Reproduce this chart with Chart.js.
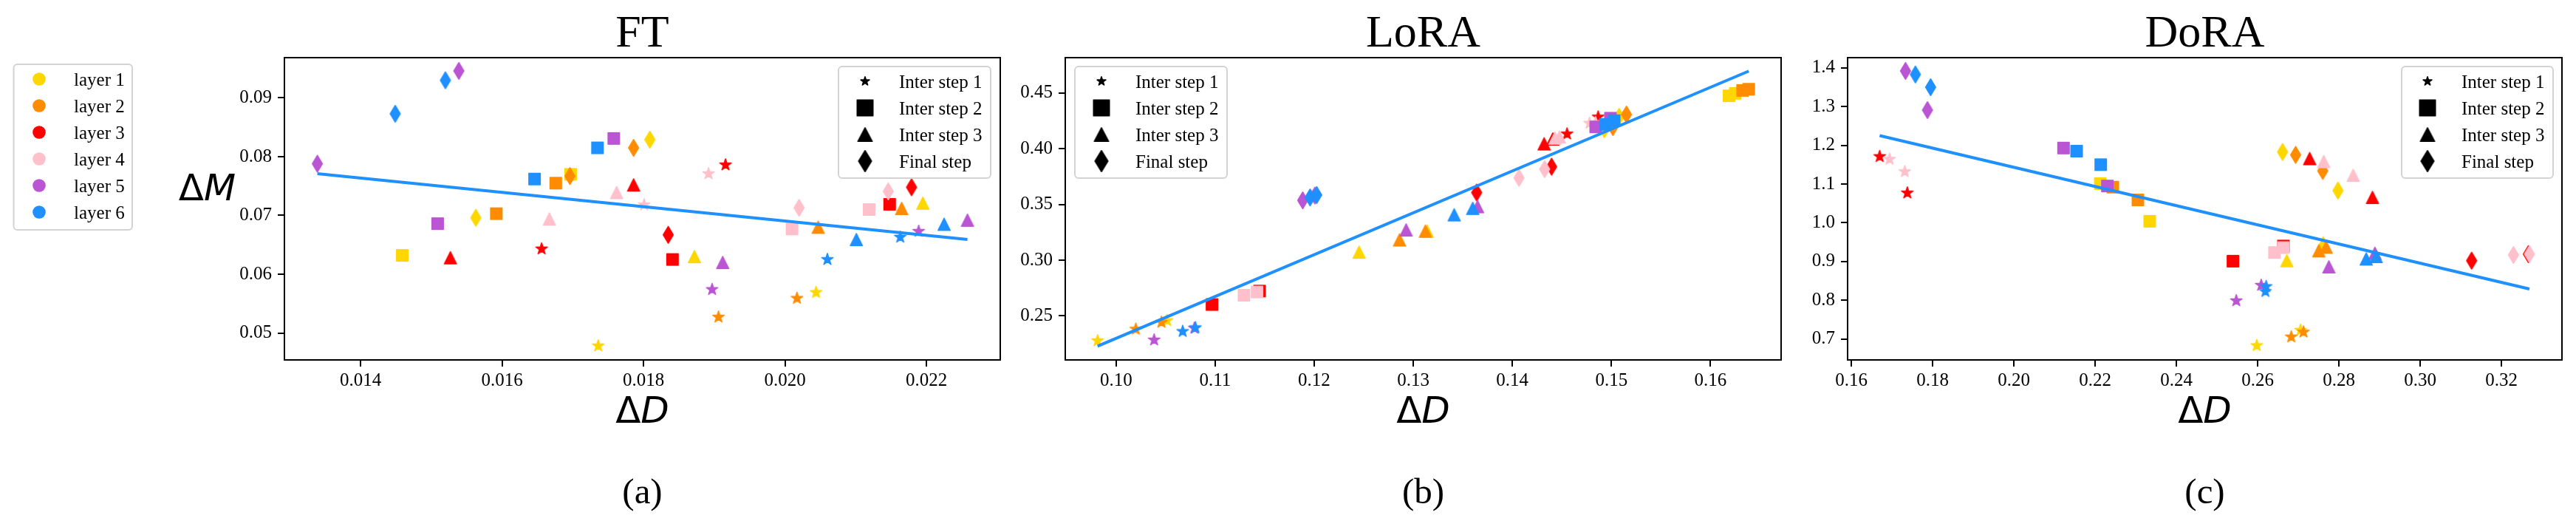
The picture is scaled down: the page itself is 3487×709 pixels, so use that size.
<!DOCTYPE html>
<html>
<head>
<meta charset="utf-8">
<script src="https://cdn.jsdelivr.net/npm/chart.js@4.4.1/dist/chart.umd.min.js"></script>
<style>
    body { margin: 0; background: #fff; width: 3487px; height: 709px; overflow: hidden; position: relative; }
    canvas { position: absolute; top: 0; }
</style>
</head>
<body>
<canvas id="ft" width="1380" height="709" style="left:0px"></canvas>
<canvas id="lora" width="1060" height="709" style="left:1380px"></canvas>
<canvas id="dora" width="1047" height="709" style="left:2440px"></canvas>
<script>
// Capas y pasos
const layerLabels = ["layer 1", "layer 2", "layer 3", "layer 4", "layer 5", "layer 6"];
const layerColors = ["#FFD700", "#FF8C00", "#FF0000", "#FFC0CB", "#BA55D3", "#1E90FF"];
const stepLabels = ["Inter step 1", "Inter step 2", "Inter step 3", "Final step"];
const stepShapes = ["star", "square", "triangle", "diamond"];

// FT: dos puntos por capa (capa 1, capa 1, capa 2, capa 2, ...)
const ftStep1X = [0.01736, 0.02044, 0.01906, 0.02017, 0.01656, 0.01916, 0.01801, 0.01892, 0.01897, 0.02189, 0.02060, 0.02163];
const ftStep1Y = [0.0478, 0.0569, 0.0527, 0.0559, 0.0643, 0.0786, 0.0718, 0.0771, 0.0574, 0.0673, 0.0625, 0.0663];
const ftStep2X = [0.01459, 0.01697, 0.01592, 0.01676, 0.01841, 0.02148, 0.02010, 0.02119, 0.01509, 0.01758, 0.01646, 0.01735];
const ftStep2Y = [0.0632, 0.0770, 0.0703, 0.0755, 0.0625, 0.0719, 0.0677, 0.0710, 0.0686, 0.0831, 0.0762, 0.0815];
const ftStep3X = [0.01872, 0.02195, 0.02047, 0.02165, 0.01527, 0.01786, 0.01667, 0.01762, 0.01912, 0.02258, 0.02101, 0.02225];
const ftStep3Y = [0.0630, 0.0721, 0.0680, 0.0712, 0.0628, 0.0752, 0.0694, 0.0739, 0.0620, 0.0692, 0.0659, 0.0685];
const ftFinalX = [0.01563, 0.01809, 0.01696, 0.01786, 0.01835, 0.02179, 0.02020, 0.02146, 0.01339, 0.01539, 0.01449, 0.01520];
const ftFinalY = [0.0696, 0.0829, 0.0767, 0.0815, 0.0667, 0.0748, 0.0713, 0.0741, 0.0788, 0.0946, 0.0873, 0.0930];
const ftFitX = [0.01339, 0.02258];
const ftFitY = [0.0771, 0.0659];
const ftXRange = [0.012924, 0.023044];
const ftYRange = [0.04541, 0.09685];
const ftXTicks = [0.014, 0.016, 0.018, 0.020, 0.022];
const ftXLabels = ["0.014", "0.016", "0.018", "0.020", "0.022"];
const ftYTicks = [0.05, 0.06, 0.07, 0.08, 0.09];
const ftYLabels = ["0.05", "0.06", "0.07", "0.08", "0.09"];

// LoRA
const loraStep1X = [0.09813, 0.10515, 0.10199, 0.10458, 0.14552, 0.14866, 0.14779, 0.14840, 0.10384, 0.10790, 0.10672, 0.10801];
const loraStep1Y = [0.2277, 0.2458, 0.2381, 0.2443, 0.4132, 0.4284, 0.4228, 0.4235, 0.2284, 0.2390, 0.2361, 0.2394];
const loraStep2X = [0.16187, 0.16250, 0.16324, 0.16386, 0.10968, 0.11448, 0.11291, 0.11423, 0.14841, 0.14990, 0.14940, 0.15028];
const loraStep2Y = [0.4474, 0.4496, 0.4522, 0.4533, 0.2602, 0.2723, 0.2685, 0.2714, 0.4195, 0.4273, 0.4218, 0.4251];
const loraStep3X = [0.12453, 0.13140, 0.12861, 0.13122, 0.14321, 0.14408, 0.14430, 0.14475, 0.12928, 0.13649, 0.13413, 0.13600];
const loraStep3Y = [0.3072, 0.3260, 0.3182, 0.3260, 0.4043, 0.4087, 0.4095, 0.4105, 0.3271, 0.3480, 0.3407, 0.3465];
const loraFinalX = [0.14928, 0.15078, 0.15015, 0.15152, 0.13640, 0.14396, 0.14067, 0.14326, 0.11884, 0.12007, 0.11958, 0.12025];
const loraFinalY = [0.4174, 0.4286, 0.4193, 0.4306, 0.3606, 0.3838, 0.3738, 0.3816, 0.3536, 0.3579, 0.3562, 0.3584];
const loraFitX = [0.09813, 0.16386];
const loraFitY = [0.2228, 0.4695];
const loraXRange = [0.09487, 0.16713];
const loraYRange = [0.2105, 0.4816];
const loraXTicks = [0.10, 0.11, 0.12, 0.13, 0.14, 0.15, 0.16];
const loraXLabels = ["0.10", "0.11", "0.12", "0.13", "0.14", "0.15", "0.16"];
const loraYTicks = [0.25, 0.30, 0.35, 0.40, 0.45];
const loraYLabels = ["0.25", "0.30", "0.35", "0.40", "0.45"];

// DoRA
const doraStep1X = [0.25975, 0.27054, 0.26824, 0.27126, 0.16694, 0.17374, 0.16938, 0.17313, 0.25472, 0.26085, 0.26188, 0.26206];
const doraStep1Y = [0.6830, 0.7225, 0.7053, 0.7179, 1.171, 1.077, 1.164, 1.132, 0.7987, 0.8387, 0.8227, 0.8355];
const doraStep2X = [0.22124, 0.23340, 0.22432, 0.23050, 0.25389, 0.26631, 0.26412, 0.26630, 0.21220, 0.22299, 0.21541, 0.22135];
const doraStep2Y = [1.101, 1.004, 1.092, 1.059, 0.9009, 0.9401, 0.9232, 0.9359, 1.193, 1.095, 1.185, 1.150];
const doraStep3X = [0.26715, 0.27611, 0.27502, 0.27684, 0.27278, 0.28823, 0.27624, 0.28350, 0.27751, 0.28884, 0.28670, 0.28914];
const doraStep3Y = [0.9022, 0.9479, 0.9276, 0.9371, 1.1658, 1.0655, 1.1581, 1.1227, 0.8864, 0.9213, 0.9066, 0.9130];
const doraFinalX = [0.26611, 0.27975, 0.26933, 0.27599, 0.31264, 0.32660, 0.32294, 0.32687, 0.17330, 0.17870, 0.17574, 0.17948];
const doraFinalY = [1.1829, 1.0832, 1.1753, 1.1340, 0.9022, 0.9190, 0.9169, 0.9193, 1.392, 1.291, 1.383, 1.350];
const doraFitX = [0.16694, 0.32687];
const doraFitY = [1.2249, 0.8292];
const doraXRange = [0.15905, 0.33488];
const doraYRange = [0.6459, 1.4263];
const doraXTicks = [0.16, 0.18, 0.20, 0.22, 0.24, 0.26, 0.28, 0.30, 0.32];
const doraXLabels = ["0.16", "0.18", "0.20", "0.22", "0.24", "0.26", "0.28", "0.30", "0.32"];
const doraYTicks = [0.7, 0.8, 0.9, 1.0, 1.1, 1.2, 1.3, 1.4];
const doraYLabels = ["0.7", "0.8", "0.9", "1.0", "1.1", "1.2", "1.3", "1.4"];

const serif = "'Liberation Serif', 'Times New Roman', serif";
const sans = "'DejaVu Sans', sans-serif";

// Tamaños de marcadores (ancho, alto)
const plotSize = { star: [18, 18], square: [17, 17], triangle: [18, 18], diamond: [15, 24] };
const legendSize = { star: [14, 14], square: [23, 23], triangle: [21, 20], diamond: [19, 30] };

function tracePath(ctx, shape, cx, cy, w, h) {
    ctx.beginPath();
    if (shape === "star") {
        const R = h / 2;
        for (let i = 0; i < 10; i++) {
            const ang = -Math.PI / 2 + i * Math.PI / 5;
            const r = i % 2 ? R * 0.382 : R;
            const px = cx + r * Math.cos(ang), py = cy + r * Math.sin(ang);
            if (i === 0) ctx.moveTo(px, py); else ctx.lineTo(px, py);
        }
    } else if (shape === "square") {
        ctx.rect(cx - w / 2, cy - h / 2, w, h);
    } else if (shape === "triangle") {
        ctx.moveTo(cx, cy - h / 2);
        ctx.lineTo(cx + w / 2, cy + h / 2);
        ctx.lineTo(cx - w / 2, cy + h / 2);
    } else {
        ctx.moveTo(cx, cy - h / 2);
        ctx.lineTo(cx + w / 2, cy);
        ctx.lineTo(cx, cy + h / 2);
        ctx.lineTo(cx - w / 2, cy);
    }
    ctx.closePath();
}

function makeMarker(shape, color, size) {
    const w = size[shape][0], h = size[shape][1];
    const c = document.createElement("canvas");
    c.width = w + 4;
    c.height = h + 4;
    const ctx = c.getContext("2d");
    ctx.fillStyle = color;
    ctx.strokeStyle = color;
    ctx.lineWidth = 1.5;
    ctx.lineJoin = "round";
    tracePath(ctx, shape, c.width / 2, c.height / 2, w - 1.5, h - 1.5);
    ctx.fill();
    ctx.stroke();
    return c;
}

const markers = {};
stepShapes.forEach(function (shape) {
    markers[shape] = layerColors.map(col => makeMarker(shape, col, plotSize));
});
const legendMarkers = stepShapes.map(shape => makeMarker(shape, "#000", legendSize));

function drawMath(ctx, a, b, cx, baseline, size) {
    ctx.font = size + "px " + sans;
    const wa = ctx.measureText(a).width;
    ctx.font = "oblique " + size + "px " + sans;
    const wb = ctx.measureText(b).width;
    const x0 = cx - (wa + wb) / 2;
    ctx.textAlign = "left";
    ctx.font = size + "px " + sans;
    ctx.fillText(a, x0, baseline);
    ctx.font = "oblique " + size + "px " + sans;
    ctx.fillText(b, x0 + wa, baseline);
}

function legendFrame(ctx, x0, y0, x1, y1) {
    ctx.beginPath();
    ctx.roundRect(x0, y0, x1 - x0, y1 - y0, 5);
    ctx.fillStyle = "rgba(255,255,255,0.85)";
    ctx.fill();
    ctx.strokeStyle = "#d3d3d3";
    ctx.lineWidth = 2;
    ctx.stroke();
}

function makeDecor(cfg) {
    return {
        id: "decor",
        afterDatasetsDraw(chart) {
            const ctx = chart.ctx, a = chart.chartArea;
            const cx = (a.left + a.right) / 2;
            ctx.save();
            // marco
            ctx.strokeStyle = "#000";
            ctx.lineWidth = 2;
            ctx.strokeRect(a.left, a.top, a.right - a.left, a.bottom - a.top);

            ctx.fillStyle = "#000";
            ctx.textAlign = "center";
            ctx.textBaseline = "alphabetic";
            ctx.font = "62px " + serif;
            ctx.fillText(cfg.title, cx, 63);
            ctx.font = "49px " + serif;
            ctx.fillText(cfg.sub, cx, 681);
            drawMath(ctx, "\u0394", "D", cx, 572, 50);
            if (cfg.yLabel) drawMath(ctx, "\u0394", "M", cfg.yLabel[0], cfg.yLabel[1], 50);

            // leyenda de pasos
            const lg = cfg.legend;
            legendFrame(ctx, lg[0], 90, lg[1], 241);
            ctx.font = "25px " + serif;
            ctx.textAlign = "left";
            stepLabels.forEach(function (txt, i) {
                const y = 110 + 36 * i;
                const img = legendMarkers[i];
                ctx.drawImage(img, lg[2] - img.width / 2, y - img.height / 2);
                ctx.fillStyle = "#000";
                ctx.fillText(txt, lg[3], y + 8.5);
            });

            // leyenda de capas
            if (cfg.layers) {
                legendFrame(ctx, 18.5, 87, 179, 311);
                ctx.font = "25px " + serif;
                layerLabels.forEach(function (txt, i) {
                    const y = 107 + 36 * i;
                    ctx.beginPath();
                    ctx.arc(53, y, 8.8, 0, Math.PI * 2);
                    ctx.fillStyle = layerColors[i];
                    ctx.fill();
                    ctx.fillStyle = "#000";
                    ctx.fillText(txt, 100, y + 9);
                });
            }
            ctx.restore();
        }
    };
}

function axisOpts(range, ticks, labels, isX, size) {
    return {
        type: "linear",
        min: range[0],
        max: range[1],
        afterBuildTicks: s => { s.ticks = ticks.map(v => ({ value: v })); },
        afterFit: s => { if (isX) s.height = size; else s.width = size; },
        ticks: {
            callback: (v, i) => labels[i],
            font: { family: serif, size: 25 },
            color: "#000",
            padding: isX ? 4 : 8,
            autoSkip: false,
            maxRotation: 0
        },
        grid: { drawOnChartArea: false, drawTicks: true, tickLength: 9, lineWidth: 2, color: "#000" },
        border: { display: false }
    };
}

function drawPanel(id, p) {
    const datasets = [{
        label: "fit",
        data: p.fitX.map((x, i) => ({ x: x, y: p.fitY[i] })),
        showLine: true,
        borderColor: "#1E90FF",
        borderWidth: 4,
        pointRadius: 0,
        order: 0
    }];
    p.steps.forEach(function (step, s) {
        layerColors.forEach(function (color, l) {
            datasets.push({
                label: layerLabels[l] + " - " + stepLabels[s],
                data: [0, 1].map(k => ({ x: step[0][2 * l + k], y: step[1][2 * l + k] })),
                pointStyle: markers[stepShapes[s]][l],
                pointRadius: 10,
                order: (6 - l) * 10 + (4 - s)
            });
        });
    });

    new Chart(document.getElementById(id), {
        type: "scatter",
        data: { datasets: datasets },
        options: {
            responsive: false,
            animation: false,
            devicePixelRatio: 1,
            layout: { padding: { top: 78, bottom: 0, left: 0, right: p.padRight } },
            plugins: { legend: { display: false }, tooltip: { enabled: false } },
            scales: {
                x: axisOpts(p.xRange, p.xTicks, p.xLabels, true, 222),
                y: axisOpts(p.yRange, p.yTicks, p.yLabels, false, p.yWidth)
            }
        },
        plugins: [makeDecor(p.decor)]
    });
}

drawPanel("ft", {
    steps: [[ftStep1X, ftStep1Y], [ftStep2X, ftStep2Y], [ftStep3X, ftStep3Y], [ftFinalX, ftFinalY]],
    fitX: ftFitX, fitY: ftFitY,
    xRange: ftXRange, yRange: ftYRange,
    xTicks: ftXTicks, xLabels: ftXLabels, yTicks: ftYTicks, yLabels: ftYLabels,
    yWidth: 385, padRight: 26,
    decor: { title: "FT", sub: "(a)", yLabel: [280.5, 271], legend: [1135, 1341, 1171, 1217], layers: true }
});

drawPanel("lora", {
    steps: [[loraStep1X, loraStep1Y], [loraStep2X, loraStep2Y], [loraStep3X, loraStep3Y], [loraFinalX, loraFinalY]],
    fitX: loraFitX, fitY: loraFitY,
    xRange: loraXRange, yRange: loraYRange,
    xTicks: loraXTicks, xLabels: loraXLabels, yTicks: loraYTicks, yLabels: loraYLabels,
    yWidth: 62, padRight: 29,
    decor: { title: "LoRA", sub: "(b)", legend: [75, 281, 111, 157] }
});

drawPanel("dora", {
    steps: [[doraStep1X, doraStep1Y], [doraStep2X, doraStep2Y], [doraStep3X, doraStep3Y], [doraFinalX, doraFinalY]],
    fitX: doraFitX, fitY: doraFitY,
    xRange: doraXRange, yRange: doraYRange,
    xTicks: doraXTicks, xLabels: doraXLabels, yTicks: doraYTicks, yLabels: doraYLabels,
    yWidth: 61, padRight: 19,
    decor: { title: "DoRA", sub: "(c)", legend: [811, 1016, 846, 892] }
});
</script>
</body>
</html>
